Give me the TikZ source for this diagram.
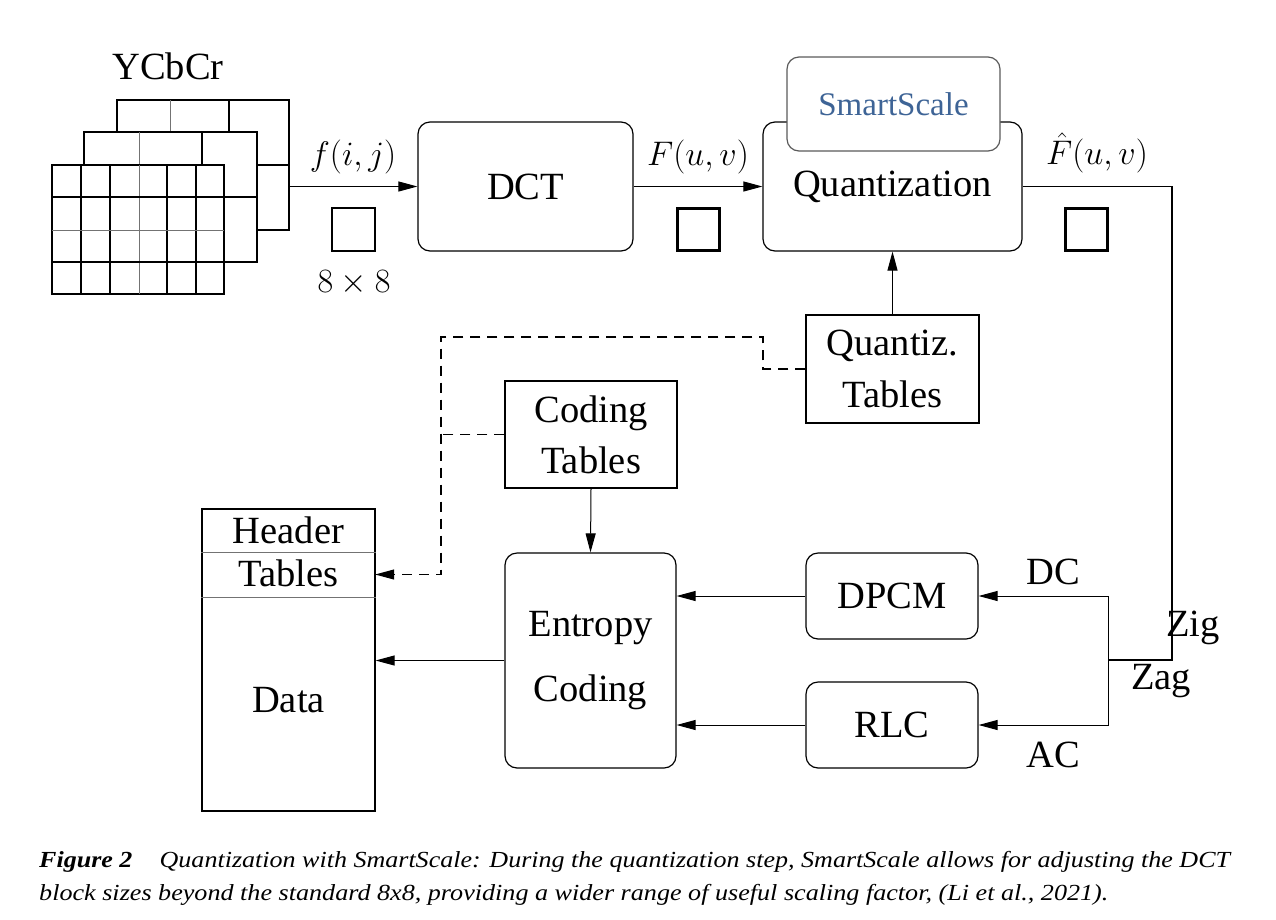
\documentclass[tikz,border=0pt]{standalone}
\usepackage[no-math]{fontspec}
\setmainfont{Liberation Serif}
\usetikzlibrary{arrows.meta}
\definecolor{ssblue}{RGB}{62,100,150}
\definecolor{ssgray}{RGB}{90,90,90}
\newcommand\bigf{\fontsize{38.5}{52}\selectfont}
\newcommand\mathf{\fontsize{24.88}{30}\selectfont}
\newcommand\capf{\fontsize{23}{33}\selectfont}
\newcommand\mlab[1]{\scalebox{1.37}{$#1$}}
\begin{document}
\begin{tikzpicture}[x=1pt,y=-1pt,
  box/.style={draw, line width=1.2pt, rounded corners=12pt, font=\bigf, inner sep=0pt, align=center, fill=white},
  sqbox/.style={draw, line width=1.2pt, font=\bigf, inner sep=0pt, align=center},
  arr/.style={line width=1pt, -{Triangle[length=19pt,width=10pt]}},
  dsh/.style={line width=1.1pt, dash pattern=on 10pt off 7pt},
  lbl/.style={font=\bigf, inner sep=0pt},
  mlbl/.style={font=\mathf, inner sep=0pt},
  gl/.style={line width=1.2pt},
  gg/.style={line width=1pt, black!55}
]
\useasboundingbox (0,0) rectangle (1276,919);

% ---- YCbCr grids ----
\node[lbl] (ycc) at (168,66) {YCbCr};
% back grid
\filldraw[gl, fill=white] (117,100) rectangle (289,230);
\draw[gg] (170,100) -- (170,230);
\draw[gl] (229,100) -- (229,230);
\draw[gl] (117,165) -- (289,165);
% middle grid
\filldraw[gl, fill=white] (84,132) rectangle (257,262);
\draw[gg] (139,132) -- (139,262);
\draw[gl] (202,132) -- (202,262);
\draw[gl] (84,197) -- (257,197);
% front grid
\filldraw[gl, fill=white] (52,165) rectangle (224,294);
\foreach \x in {81,110,167,196} \draw[gl] (\x,165) -- (\x,294);
\draw[gg] (139,165) -- (139,294);
\draw[gl] (52,197) -- (224,197);
\draw[gg] (52,230) -- (224,230);
\draw[gl] (52,262) -- (224,262);
\coordinate (gout) at (289,186.5);

% ---- main boxes ----
\node[box, minimum width=215, minimum height=129] (dct) at (525.5,186.5) {DCT};
\node[box, minimum width=259, minimum height=129] (quant) at (892.5,186.5) {Quantization};
\node[box, draw=ssgray, minimum width=213, minimum height=94, font=\fontsize{33}{40}\selectfont, text=ssblue] (smart) at (893.5,104) {SmartScale};
\node[sqbox, minimum width=173, minimum height=108] (qtab) at (892.5,369) {Quantiz.\\Tables};
\node[sqbox, minimum width=172, minimum height=107, font=\fontsize{38.5}{51}\selectfont] (ctab) at (591,434.5) {Coding\\Tables};
\node[box, minimum width=171, minimum height=215, font=\fontsize{38.5}{65}\selectfont] (entropy) at (590.5,660.5) {Entropy\\Coding};
\node[box, minimum width=172, minimum height=86] (dpcm) at (892,596) {DPCM};
\node[box, minimum width=172, minimum height=86] (rlc) at (892,725) {RLC};

% ---- output stream ----
\node[sqbox, minimum width=173, minimum height=302] (stream) at (288.5,660) {};
\node[draw=none, minimum width=173, minimum height=45, inner sep=0pt] (tabcell) at (288.5,574.5) {};
\draw[gg] (stream.west |- 0,552) -- (stream.east |- 0,552);
\draw[gg] (stream.west |- 0,597) -- (stream.east |- 0,597);
\node[lbl] (hdr) at (288.5,530) {Header};
\node[lbl] (tbl) at (288.5,573) {Tables};
\node[lbl] (dat) at (288.5,700) {Data};

% ---- small squares ----
\node[draw, line width=1.2pt, minimum width=43, minimum height=43, inner sep=0pt] (sq1) at (353.5,229.5) {};
\node[draw, line width=3pt, minimum width=42, minimum height=42, inner sep=0pt] (sq2) at (698,229.5) {};
\node[draw, line width=3pt, minimum width=42, minimum height=42, inner sep=0pt] (sq3) at (1086,229.5) {};

% ---- labels ----
\node[mlbl] (lf) at (353,157) {\mlab{f(i,j)}};
\node[mlbl] (l88) at (354,283) {\mlab{8\times8}};
\node[mlbl] (lF) at (698,157) {\mlab{F(u,v)}};
\node[mlbl] (lFh) at (1097,153) {\mlab{\hat{F}(u,v)}};
\node[lbl] (ldc) at (1053,572) {DC};
\node[lbl] (lac) at (1053,755) {AC};

% ---- connectors ----
\draw[arr] (gout) -- (dct.west);
\draw[arr] (dct.east) -- (quant.west);
\draw[arr] (qtab.north) -- (quant.south);
\draw[arr] (ctab.south) -- (entropy.north);
\draw[arr] (dpcm.west) -- (entropy.east |- dpcm.west);
\draw[arr] (rlc.west) -- (entropy.east |- rlc.west);
\draw[arr] (entropy.west) -- (stream.east |- entropy.west);

\coordinate (zz) at (1172,660);
\coordinate (zj) at (1108,660);
\draw[line width=1.1pt] (quant.east) -| (zz) -- (zj);
\draw[arr] (zj) |- (dpcm.east);
\draw[arr] (zj) |- (rlc.east);
\node[lbl, fill=none] (lzig) at (1193,628) {Zig};
\node[lbl] (lzag) at (1161,681) {Zag};

\coordinate (d1) at (763,337);
\coordinate (d2) at (441,337);
\draw[dsh, -{Triangle[length=19pt,width=10pt]}] (qtab.west) -| (d1) -- (d2) |- (tabcell.east);
\draw[dsh] (ctab.west) -- (d2 |- ctab.west);

% ---- caption ----
\node[anchor=base west, font=\capf\itshape, inner sep=0pt] (cap1) at (39,867)
  {\scalebox{1.132}[1]{\textbf{Figure 2}\hspace{24pt}Quantization with SmartScale: During the quantization step, SmartScale allows for adjusting the DCT}};
\node[anchor=base west, font=\capf\itshape, inner sep=0pt] (cap2) at (39,900)
  {\scalebox{1.136}[1]{block sizes beyond the standard 8x8, providing a wider range of useful scaling factor, (Li et al., 2021).}};
\end{tikzpicture}
\end{document}
